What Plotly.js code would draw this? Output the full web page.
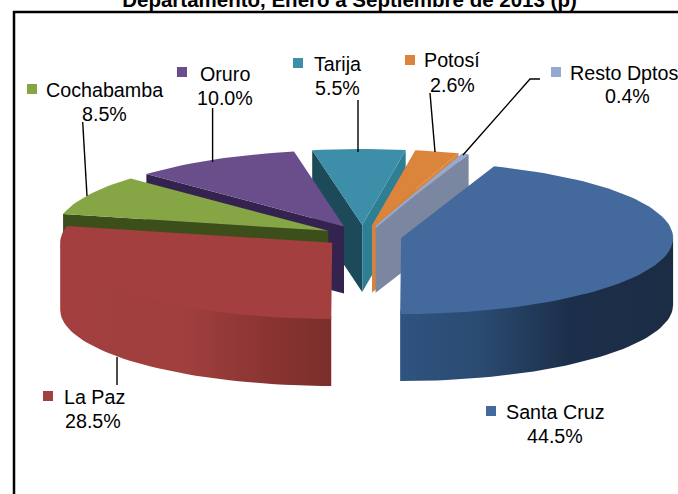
<!DOCTYPE html>
<html><head><meta charset="utf-8">
<script src="https://cdn.plot.ly/plotly-3.0.1.min.js"></script>
<style>html,body{margin:0;padding:0;background:#fff;overflow:hidden}#c{width:678px;height:494px}</style>
</head><body><div id="c"></div>
<script>
const categories = ['Santa Cruz','La Paz','Cochabamba','Oruro','Tarija','Potosí','Resto Dptos'];
const shares = [44.5,28.5,8.5,10.0,5.5,2.6,0.4];
const shareLabels = ['44.5%','28.5%','8.5%','10.0%','5.5%','2.6%','0.4%'];
const titleText = 'Departamento, Enero a Septiembre de 2013 (p)';

const faceColors = ['#44699c','#a33f3f','#86a544','#6a4e8c','#3d8ea8','#db843c','#94a9d2'];
const cutColors  = ['#2d5078','#7a2e2b','#3c4f1a','#35234f','#1c4a58','#d98338','#7b86a0'];
const sideColors = ['#2f7f94'];
const labelXY = [[555,412],[94,397],[104,90],[225,74],[337,64],[452,60],[624,73]];
const pctXY = [[555,436],[93,421],[104,114],[225,98],[337,88],[452,85],[627,96]];
const markerXY = [[491,411],[48,396],[32,89],[182,72],[298,63],[410,60],[556,72]];

const CX=362.7, CY=236, R=272, SQ=0.28, PULL=39, DEPTH=67, START=20;
const traces=[];
function pt(o,deg,r,dz){const t=deg*Math.PI/180;return [o[0]+r*Math.sin(t),o[1]-r*SQ*Math.cos(t)+(dz||0)];}
function poly(points,color,name,grad){
  const xs=points.map(p=>p[0]).concat(points[0][0]), ys=points.map(p=>p[1]).concat(points[0][1]);
  const t={type:'scatter',mode:'lines',x:xs,y:ys,fill:'toself',line:{width:0,color},hoverinfo:'skip',showlegend:false,name};
  if(grad){t.fillgradient={type:'horizontal',colorscale:grad};}else{t.fillcolor=color;}
  traces.push(t);
}
let a=START; const slices=shares.map((v,i)=>{const s={i,a0:a,a1:a+v*3.6};a=s.a1;return s;});
slices.forEach(s=>{const mid=(s.a0+s.a1)/2*Math.PI/180;
  s.o=[CX+PULL*Math.sin(mid),CY-PULL*SQ*Math.cos(mid)];});
function arc(s,from,to,dz){const n=Math.max(2,Math.ceil(Math.abs(to-from)/2));const p=[];
  for(let k=0;k<=n;k++)p.push(pt(s.o,from+(to-from)*k/n,R,dz));return p;}
function cut(s,deg,color,depth){const e=pt(s.o,deg,R),d=depth===undefined?DEPTH:depth;
  poly([s.o,e,[e[0],e[1]+d],[s.o[0],s.o[1]+d]],color);}
function face(s){poly([s.o].concat(arc(s,s.a0,s.a1)),faceColors[s.i],categories[s.i]);}
function wall(s,from,to,grad){poly(arc(s,from,to,-3).concat(arc(s,to,from,DEPTH)),cutColors[s.i],categories[s.i],grad);}

const [sc,lp,co,or,ta,po,re]=slices;
cut(ta,ta.a0,cutColors[4]); cut(ta,ta.a1-360,sideColors[0]); face(ta);
cut(po,po.a0,cutColors[5]); cut(po,po.a1,cutColors[5]); face(po);
cut(re,re.a1,cutColors[6]); cut(re,re.a0,faceColors[6],2.5); face(re);
wall(sc,90,sc.a1,[[0,'#2f5480'],[0.3,'#2a4a70'],[0.62,'#1c2f4a'],[1,'#1b2c45']]);
face(sc);
cut(or,or.a0,cutColors[3]); face(or);
cut(co,co.a0,cutColors[2]); face(co);
wall(lp,lp.a0,270,[[0,'#a33f3f'],[0.45,'#a03f3e'],[0.75,'#8b3532'],[1,'#7a2e2b']]);
face(lp);

const LEADERS=[[[82.7,122],[87,196]],[[212.6,108],[212.6,162]],[[358,100],[358,152]],[[430,93],[435,152]],
  [[540,79],[530,79],[463,155]],[[117,357],[117,385]]];
LEADERS.forEach(l=>traces.push({type:'scatter',mode:'lines',x:l.map(p=>p[0]),y:l.map(p=>p[1]),
  line:{color:'#000',width:1.4},hoverinfo:'skip',showlegend:false}));

const FONT='Liberation Sans, Arial, sans-serif';
const ann=[];
categories.forEach((c,i)=>ann.push({x:labelXY[i][0],y:labelXY[i][1],xref:'x',yref:'y',text:c,showarrow:false,xanchor:'center',yanchor:'middle',
    font:{family:FONT,size:19.7,color:'#000'}}));
shareLabels.forEach((t,i)=>ann.push({x:pctXY[i][0],y:pctXY[i][1],xref:'x',yref:'y',text:t,showarrow:false,xanchor:'center',yanchor:'middle',
    font:{family:FONT,size:19.7,color:'#000'}}));

const shapes=[
 {type:'line',xref:'x',yref:'y',x0:13,x1:678,y0:12,y1:12,line:{color:'#000',width:2.5}},
 {type:'line',xref:'x',yref:'y',x0:14,x1:14,y0:11,y1:494,line:{color:'#000',width:2.5}}
];
categories.forEach((c,i)=>shapes.push({type:'rect',xref:'x',yref:'y',x0:markerXY[i][0]-5,x1:markerXY[i][0]+5,
  y0:markerXY[i][1]-5,y1:markerXY[i][1]+5,fillcolor:faceColors[i],line:{width:0}}));

Plotly.newPlot('c',traces,{width:678,height:494,margin:{l:0,r:0,t:0,b:0},paper_bgcolor:'#fff',plot_bgcolor:'#fff',showlegend:false,
  title:{text:'<b>'+titleText+'</b>',xref:'paper',x:0.5155,xanchor:'center',yref:'container',y:1.0,yanchor:'middle',pad:{t:0,b:0},font:{family:FONT,size:20.5,color:'#000'}},
  xaxis:{range:[0,678],visible:false,fixedrange:true},yaxis:{range:[494,0],visible:false,fixedrange:true},
  shapes,annotations:ann},{displayModeBar:false,staticPlot:true});
</script></body></html>
